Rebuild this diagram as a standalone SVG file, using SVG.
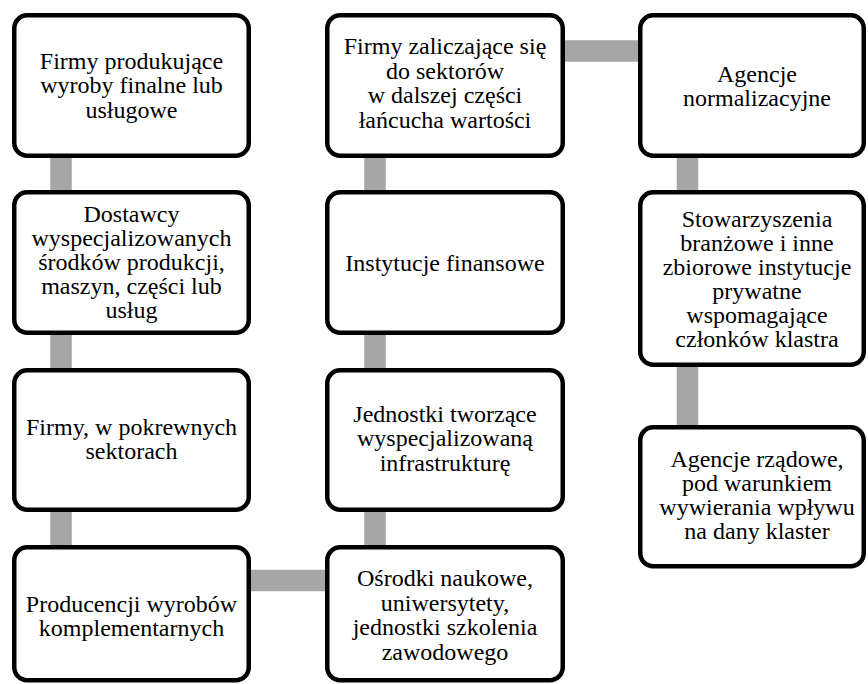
<svg xmlns="http://www.w3.org/2000/svg" width="868" height="684" viewBox="0 0 868 684">
  <style>
    .box { fill: #ffffff; stroke: #000000; stroke-width: 4.5; }
    .link { stroke: #a6a6a6; stroke-width: 21.5; fill: none; }
    text { font-family: "Liberation Serif", "Times New Roman", serif; font-size: 24px; fill: #000000; text-anchor: middle; }
  </style>
  <rect width="868" height="684" fill="#ffffff"/>

  <!-- connectors -->
  <g id="connectors">
    <line class="link" x1="61" y1="150" x2="61" y2="552"/>
    <line class="link" x1="245" y1="580.5" x2="330" y2="580.5"/>
    <line class="link" x1="375" y1="150" x2="375" y2="552"/>
    <line class="link" x1="560" y1="51" x2="644" y2="51"/>
    <line class="link" x1="687.5" y1="150" x2="687.5" y2="432"/>
  </g>

  <!-- column 1 -->
  <g id="n1">
    <rect class="box" x="14.25" y="15.25" width="234.5" height="140.5" rx="13"/>
    <text x="131.5" y="69">Firmy produkujące</text>
    <text x="131.5" y="93.3">wyroby finalne lub</text>
    <text x="131.5" y="117.5">usługowe</text>
  </g>
  <g id="n2">
    <rect class="box" x="14.25" y="192.25" width="234.5" height="140.5" rx="13"/>
    <text x="131.5" y="221.7">Dostawcy</text>
    <text x="131.5" y="246">wyspecjalizowanych</text>
    <text x="131.5" y="270">środków produkcji,</text>
    <text x="131.5" y="294">maszyn, części lub</text>
    <text x="131.5" y="318">usług</text>
  </g>
  <g id="n3">
    <rect class="box" x="14.25" y="370.25" width="234.5" height="139.5" rx="13"/>
    <text x="131.5" y="435">Firmy, w pokrewnych</text>
    <text x="131.5" y="459">sektorach</text>
  </g>
  <g id="n4">
    <rect class="box" x="14.25" y="547.25" width="234.5" height="133" rx="13"/>
    <text x="131.5" y="611.7">Producencji wyrobów</text>
    <text x="131.5" y="636">komplementarnych</text>
  </g>

  <!-- column 2 -->
  <g id="n5">
    <rect class="box" x="327.25" y="15.25" width="235.5" height="140.5" rx="13"/>
    <text x="445" y="54">Firmy zaliczające się</text>
    <text x="445" y="78.5">do sektorów</text>
    <text x="445" y="103">w dalszej części</text>
    <text x="445" y="127.5">łańcucha wartości</text>
  </g>
  <g id="n6">
    <rect class="box" x="327.25" y="192.25" width="235.5" height="140.5" rx="13"/>
    <text x="445" y="270.7">Instytucje finansowe</text>
  </g>
  <g id="n7">
    <rect class="box" x="327.25" y="370.25" width="235.5" height="139.5" rx="13"/>
    <text x="445" y="421.7">Jednostki tworzące</text>
    <text x="445" y="446">wyspecjalizowaną</text>
    <text x="445" y="470.7">infrastrukturę</text>
  </g>
  <g id="n8">
    <rect class="box" x="327.25" y="547.25" width="235.5" height="133" rx="13"/>
    <text x="445" y="586">Ośrodki naukowe,</text>
    <text x="445" y="610.7">uniwersytety,</text>
    <text x="445" y="635">jednostki szkolenia</text>
    <text x="445" y="660">zawodowego</text>
  </g>

  <!-- column 3 -->
  <g id="n9">
    <rect class="box" x="640.25" y="15.25" width="223.5" height="140.5" rx="13"/>
    <text x="757" y="81.7">Agencje</text>
    <text x="757" y="106">normalizacyjne</text>
  </g>
  <g id="n10">
    <rect class="box" x="640.25" y="192.25" width="223.5" height="172.5" rx="13"/>
    <text x="757" y="227.3">Stowarzyszenia</text>
    <text x="757" y="251.3">branżowe i inne</text>
    <text x="757" y="275.3">zbiorowe instytucje</text>
    <text x="757" y="299.3">prywatne</text>
    <text x="757" y="323">wspomagające</text>
    <text x="757" y="347">członków klastra</text>
  </g>
  <g id="n11">
    <rect class="box" x="640.25" y="427.25" width="223.5" height="139" rx="13"/>
    <text x="757" y="466.7">Agencje rządowe,</text>
    <text x="757" y="490.7">pod warunkiem</text>
    <text x="757" y="515">wywierania wpływu</text>
    <text x="757" y="539">na dany klaster</text>
  </g>
</svg>
